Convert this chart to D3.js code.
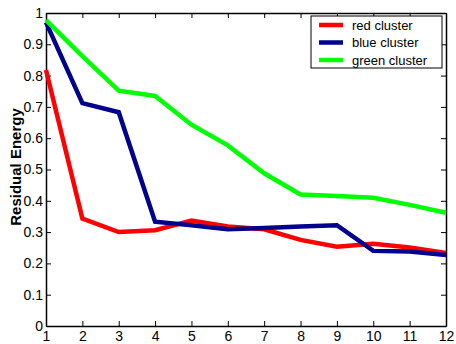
<!DOCTYPE html>
<html>
<head>
<meta charset="utf-8">
<script src="https://cdn.jsdelivr.net/npm/d3@7"></script>
<style>
  body { margin: 0; background: #fff; }
  text { font-family: "Liberation Sans", Arial, sans-serif; }
</style>
</head>
<body>
<div id="chart"></div>
<script>
// Data
var steps = [1, 2, 3, 4, 5, 6, 7, 8, 9, 10, 11, 12];
var redCluster   = [0.818, 0.343, 0.300, 0.306, 0.337, 0.318, 0.309, 0.275, 0.253, 0.263, 0.251, 0.233];
var blueCluster  = [0.970, 0.712, 0.683, 0.333, 0.322, 0.309, 0.313, 0.318, 0.322, 0.240, 0.238, 0.227];
var greenCluster = [0.977, 0.862, 0.752, 0.735, 0.643, 0.577, 0.488, 0.420, 0.415, 0.410, 0.387, 0.362];
var seriesNames = ["red cluster", "blue cluster", "green cluster"];
var seriesColors = ["#ff0000", "#00008f", "#00ff00"];
var yTicks = [0, 0.1, 0.2, 0.3, 0.4, 0.5, 0.6, 0.7, 0.8, 0.9, 1];

var svgWidth = 456;
var svgHeight = 344;
var margin = { top: 13, right: 10, bottom: 18, left: 46 };
var chartWidth = svgWidth - margin.left - margin.right;
var chartHeight = svgHeight - margin.top - margin.bottom;

var svg = d3.select("#chart")
  .append("svg")
  .attr("width", svgWidth)
  .attr("height", svgHeight);

var chartGroup = svg.append("g")
  .attr("transform", `translate(${margin.left}, ${margin.top})`);

var xScale = d3.scaleLinear().domain([1, 12]).range([0, chartWidth]);
var yScale = d3.scaleLinear().domain([0, 1]).range([chartHeight, 0]);

// Axes with inward ticks on all four sides
var bottomAxis = d3.axisBottom(xScale).tickValues(steps).tickSizeInner(-5).tickSizeOuter(0).tickPadding(5).tickFormat(d3.format("d"));
var leftAxis = d3.axisLeft(yScale).tickValues(yTicks).tickSizeInner(-5).tickSizeOuter(0).tickPadding(3).tickFormat(d => d3.format("")(+d.toFixed(1)));
var topAxis = d3.axisTop(xScale).tickValues(steps).tickSizeInner(-5).tickSizeOuter(0).tickFormat("");
var rightAxis = d3.axisRight(yScale).tickValues(yTicks).tickSizeInner(-5).tickSizeOuter(0).tickFormat("");

function styleAxis(g) {
  g.select(".domain").attr("stroke", "#000").attr("stroke-width", 1.5);
  g.selectAll(".tick line").attr("stroke", "#000");
  g.selectAll(".tick text").attr("fill", "#000").attr("font-size", "14px")
    .style("font-family", "'Liberation Sans', Arial, sans-serif");
}

chartGroup.append("g").attr("transform", `translate(0, ${chartHeight})`).call(bottomAxis).call(styleAxis);
chartGroup.append("g").call(leftAxis).call(styleAxis);
chartGroup.append("g").call(topAxis).call(styleAxis);
chartGroup.append("g").attr("transform", `translate(${chartWidth}, 0)`).call(rightAxis).call(styleAxis);

// Lines
var allSeries = [redCluster, blueCluster, greenCluster];
var line = d3.line()
  .x((d, i) => xScale(steps[i]))
  .y(d => yScale(d));

chartGroup.selectAll(".series")
  .data(allSeries)
  .enter()
  .append("path")
  .attr("class", "series")
  .attr("d", line)
  .attr("fill", "none")
  .attr("stroke", (d, i) => seriesColors[i])
  .attr("stroke-width", 4.5)
  .attr("stroke-linejoin", "miter");

// Legend
var legend = svg.append("g").attr("transform", "translate(311, 16)");
legend.append("rect")
  .attr("width", 131)
  .attr("height", 52)
  .attr("fill", "#fff")
  .attr("stroke", "#000")
  .attr("stroke-width", 1);

var items = legend.selectAll(".item")
  .data(seriesNames)
  .enter()
  .append("g")
  .attr("transform", (d, i) => `translate(0, ${9 + i * 17.5})`);

items.append("line")
  .attr("x1", 8).attr("x2", 32)
  .attr("y1", 0).attr("y2", 0)
  .attr("stroke", (d, i) => seriesColors[i])
  .attr("stroke-width", 4.5);

items.append("text")
  .attr("x", 41)
  .attr("y", 4.5)
  .attr("font-size", "13px")
  .attr("fill", "#000")
  .text(d => d);

// Y label
svg.append("text")
  .attr("transform", "translate(21, 167) rotate(-90)")
  .attr("text-anchor", "middle")
  .attr("font-size", "15px")
  .attr("fill", "#000")
  .style("font-weight", "bold")
  .text("Residual Energy");
</script>
</body>
</html>
